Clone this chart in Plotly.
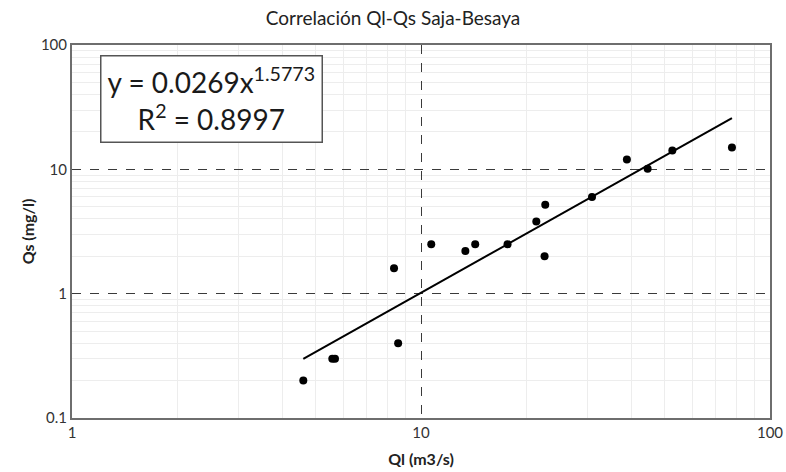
import numpy as np
import plotly.graph_objects as go

# Caudal líquido (m3/s) y caudal sólido (mg/l)
ql = [4.6, 5.57, 5.67, 8.37, 8.6, 10.7, 13.4, 14.3, 17.7, 21.4, 22.7, 22.6, 30.9, 38.9, 44.6, 52.5, 77.8]
qs = [0.2, 0.3, 0.3, 1.6, 0.4, 2.5, 2.2, 2.5, 2.5, 3.8, 5.2, 2.0, 6.0, 12.0, 10.1, 14.2, 15.0]

# Ajuste potencial y = a * x^b
coef_a = 0.0269
coef_b = 1.5773
r2 = 0.8997

font_family = "Lato, 'Open Sans', sans-serif"

x_fit = np.logspace(np.log10(min(ql)), np.log10(max(ql)), 60)
y_fit = coef_a * x_fit ** coef_b

fig = go.Figure()
fig.add_trace(go.Scatter(x=x_fit, y=y_fit, mode="lines",
                         line=dict(color="black", width=2), hoverinfo="skip"))
fig.add_trace(go.Scatter(x=ql, y=qs, mode="markers",
                         marker=dict(color="black", size=8)))

minor_x = [m * 10 ** e for e in range(0, 2) for m in range(2, 10)]
minor_y = [m * 10 ** e for e in range(-1, 2) for m in range(2, 10)]

axis_common = dict(
    type="log", automargin=False,
    showline=True, mirror=True, linecolor="#6e6e6e", linewidth=2,
    gridcolor="#3a3a3a", griddash="dash", gridwidth=1,
    ticks="", zeroline=False,
    tickfont=dict(family=font_family, size=15, color="#333333"),
)
minor_common = dict(showgrid=True, gridcolor="#ededed", gridwidth=1,
                    griddash="solid", ticks="")

fig.update_xaxes(
    **axis_common,
    range=[0, 2],
    tickvals=[1, 10, 100], ticktext=["1", "10", "100"],
    minor=dict(tickvals=minor_x, **minor_common),
    title=dict(text="<b>Ql (m3/s)</b>", font=dict(family=font_family, size=16, color="#222222"), standoff=14),
)
fig.update_yaxes(
    **axis_common,
    range=[-1, 2],
    tickvals=[0.1, 1, 10, 100], ticktext=["0.1", "1", "10", "100"],
    minor=dict(tickvals=minor_y, **minor_common),
    title=dict(text="<b>Qs (mg/l)</b>", font=dict(family=font_family, size=16, color="#222222"), standoff=2),
)

fig.add_annotation(
    xref="paper", yref="paper", x=0.2005, y=0.855,
    xanchor="center", yanchor="middle",
    text=f"y = {coef_a}x<sup>{coef_b}</sup><br>R<sup>2</sup> = {r2}",
    showarrow=False, align="center",
    font=dict(family=font_family, size=28, color="#1a1a1a"),
    bordercolor="#555555", borderwidth=1.5, borderpad=6, bgcolor="white",
)

fig.update_layout(
    width=786, height=472,
    margin=dict(l=72, r=16, t=45, b=54),
    paper_bgcolor="white", plot_bgcolor="white",
    showlegend=False,
    title=dict(text="Correlación Ql-Qs Saja-Besaya", x=0.5, xanchor="center",
               y=0.962, yanchor="middle",
               font=dict(family=font_family, size=19, color="#222222")),
)

fig.write_html("out.html")
